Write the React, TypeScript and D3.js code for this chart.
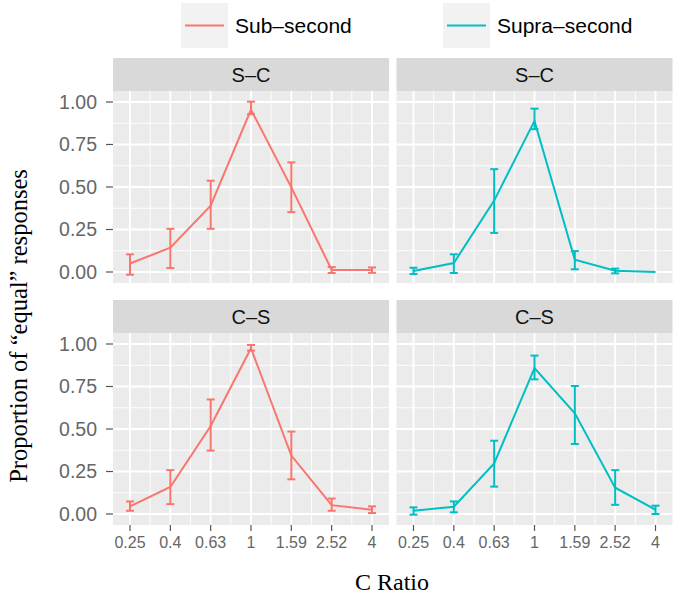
import React from "react";
import * as d3 from "d3";

const ratioLabels = ["0.25", "0.4", "0.63", "1", "1.59", "2.52", "4"];
const conditions = ["Sub–second", "Supra–second"];
const conditionColors = ["#F8766D", "#00BFC4"];
const orders = ["S–C", "C–S"];
const yTicks = [0, 0.25, 0.5, 0.75, 1];
const yMinor = [0.125, 0.375, 0.625, 0.875];

// Sub-second, S–C
const subSCMean = [0.05, 0.143, 0.39, 0.955, 0.498, 0.012, 0.012];
const subSCLo = [-0.016, 0.023, 0.254, 0.928, 0.352, -0.006, -0.005];
const subSCHi = [0.104, 0.254, 0.537, 1.002, 0.645, 0.029, 0.027];
// Supra-second, S–C
const supSCMean = [0.006, 0.053, 0.42, 0.889, 0.072, 0.008, 0.0];
const supSCLo = [-0.012, -0.006, 0.23, 0.84, 0.016, -0.008, null];
const supSCHi = [0.025, 0.104, 0.605, 0.961, 0.123, 0.02, null];
// Sub-second, C–S
const subCSMean = [0.045, 0.159, 0.518, 0.975, 0.344, 0.052, 0.025];
const subCSLo = [0.019, 0.058, 0.373, 0.961, 0.204, 0.019, 0.006];
const subCSHi = [0.074, 0.258, 0.674, 0.994, 0.485, 0.091, 0.045];
// Supra-second, C–S
const supCSMean = [0.019, 0.043, 0.297, 0.858, 0.592, 0.155, 0.025];
const supCSLo = [-0.004, 0.01, 0.161, 0.792, 0.412, 0.054, 0.0];
const supCSHi = [0.039, 0.074, 0.431, 0.932, 0.753, 0.258, 0.049];

const W = 675;
const H = 596;
const panelX = [113, 396.5];
const panelW = 276;
const stripTop = [58, 300];
const stripH = 33;
const panelH = 192;
const sans = "'Liberation Sans', Arial, Helvetica, sans-serif";
const serif = "'Liberation Serif', 'Times New Roman', serif";

export default function App() {
  const x = d3.scaleLinear().domain([-0.4215, 6.4215]).range([0, panelW]);
  const y = d3.scaleLinear().domain([-11 / 170, 1 + 11 / 170]).range([panelH, 0]);
  const idx = d3.range(ratioLabels.length);
  const xMinor = d3.range(0.5, 6, 1);

  const panels = [
    { r: 0, c: 0, mean: subSCMean, lo: subSCLo, hi: subSCHi },
    { r: 0, c: 1, mean: supSCMean, lo: supSCLo, hi: supSCHi },
    { r: 1, c: 0, mean: subCSMean, lo: subCSLo, hi: subCSHi },
    { r: 1, c: 1, mean: supCSMean, lo: supCSLo, hi: supCSHi },
  ];

  const line = d3
    .line<number>()
    .x((_, i) => x(i))
    .y((d) => y(d));

  const legendKeys = [
    { bx: 181, tx: 235 },
    { bx: 443, tx: 497 },
  ];

  return (
    <div style={{ position: "absolute", left: 0, top: 0 }}>
      <svg width={W} height={H} style={{ display: "block", background: "#fff" }}>
        {/* Legend */}
        {conditions.map((c, i) => (
          <g key={c}>
            <rect x={legendKeys[i].bx} y={3} width={47} height={45} fill="#F2F2F2" />
            <line
              x1={legendKeys[i].bx + 4}
              x2={legendKeys[i].bx + 43}
              y1={25.5}
              y2={25.5}
              stroke={conditionColors[i]}
              strokeWidth={2}
            />
            <text
              x={legendKeys[i].tx}
              y={25.5}
              dy="0.35em"
              fontFamily={sans}
              fontSize={21}
              fill="#000"
            >
              {c}
            </text>
          </g>
        ))}

        {panels.map((p, pi) => {
          const px = panelX[p.c];
          const st = stripTop[p.r];
          const py = st + stripH;
          const color = conditionColors[p.c];
          return (
            <g key={pi}>
              {/* strip */}
              <rect x={px} y={st} width={panelW} height={stripH} fill="#D9D9D9" />
              <text
                x={px + panelW / 2}
                y={st + stripH / 2}
                dy="0.35em"
                textAnchor="middle"
                fontFamily={sans}
                fontSize={20}
                fill="#111"
              >
                {orders[p.r]}
              </text>
              <g transform={`translate(${px},${py})`}>
                <rect width={panelW} height={panelH} fill="#EBEBEB" />
                {yMinor.map((t) => (
                  <line key={"ym" + t} x1={0} x2={panelW} y1={y(t)} y2={y(t)} stroke="#fff" strokeWidth={0.9} />
                ))}
                {xMinor.map((t) => (
                  <line key={"xm" + t} y1={0} y2={panelH} x1={x(t)} x2={x(t)} stroke="#fff" strokeWidth={0.9} />
                ))}
                {yTicks.map((t) => (
                  <line key={"y" + t} x1={0} x2={panelW} y1={y(t)} y2={y(t)} stroke="#fff" strokeWidth={1.9} />
                ))}
                {idx.map((i) => (
                  <line key={"x" + i} y1={0} y2={panelH} x1={x(i)} x2={x(i)} stroke="#fff" strokeWidth={1.9} />
                ))}
                {/* data line */}
                <path d={line(p.mean) || ""} fill="none" stroke={color} strokeWidth={2} />
                {/* error bars */}
                {idx.map((i) => {
                  const lo = p.lo[i];
                  const hi = p.hi[i];
                  if (lo === null || hi === null) return null;
                  const cx = x(i);
                  const hw = 4;
                  return (
                    <g key={"e" + i} stroke={color} strokeWidth={2} fill="none">
                      <line x1={cx} x2={cx} y1={y(lo)} y2={y(hi)} />
                      <line x1={cx - hw} x2={cx + hw} y1={y(lo)} y2={y(lo)} />
                      <line x1={cx - hw} x2={cx + hw} y1={y(hi)} y2={y(hi)} />
                    </g>
                  );
                })}
                {/* y axis (left column) */}
                {p.c === 0 &&
                  yTicks.map((t) => (
                    <g key={"yt" + t}>
                      <line x1={-7} x2={0} y1={y(t)} y2={y(t)} stroke="#555" strokeWidth={1.2} />
                      <text
                        x={-16}
                        y={y(t)}
                        dy="0.35em"
                        textAnchor="end"
                        fontFamily={sans}
                        fontSize={19.5}
                        fill="#666"
                      >
                        {t.toFixed(2)}
                      </text>
                    </g>
                  ))}
                {/* x axis (bottom row) */}
                {p.r === 1 &&
                  idx.map((i) => (
                    <g key={"xt" + i}>
                      <line x1={x(i)} x2={x(i)} y1={panelH} y2={panelH + 6} stroke="#555" strokeWidth={1.2} />
                      <text
                        x={x(i)}
                        y={panelH + 23}
                        textAnchor="middle"
                        fontFamily={sans}
                        fontSize={16}
                        fill="#666"
                      >
                        {ratioLabels[i]}
                      </text>
                    </g>
                  ))}
              </g>
            </g>
          );
        })}

        {/* axis titles */}
        <text
          x={392}
          y={590}
          textAnchor="middle"
          fontFamily={serif}
          fontSize={24}
          fill="#000"
        >
          C Ratio
        </text>
        <text
          transform={`translate(27,326) rotate(-90)`}
          textAnchor="middle"
          fontFamily={serif}
          fontSize={24.5}
          fill="#000"
        >
          Proportion of “equal” responses
        </text>
      </svg>
    </div>
  );
}
